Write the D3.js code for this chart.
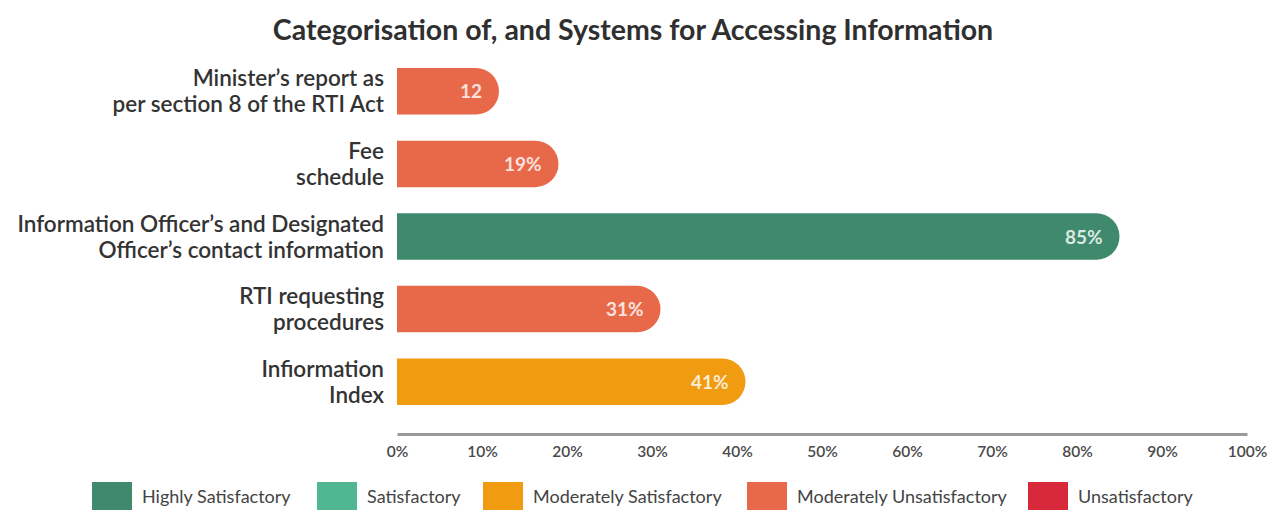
<!DOCTYPE html>
<html>
<head>
<meta charset="utf-8">
<script src="https://cdn.jsdelivr.net/npm/d3@7"></script>
<style>
  html, body { margin: 0; padding: 0; background: #fff; }
  svg { display: block; font-family: Lato, "Open Sans", sans-serif; }
</style>
</head>
<body>
<svg id="chart" width="1277" height="510"></svg>
<script>
// Indicators (two-line labels), their scores and rating
const categories = [
  ["Minister\u2019s report as", "per section 8 of the RTI Act"],
  ["Fee", "schedule"],
  ["Information Officer\u2019s and Designated", "Officer\u2019s contact information"],
  ["RTI requesting", "procedures"],
  ["Infiormation", "Index"]
];
const values = [12, 19, 85, 31, 41];
const valueLabels = ["12", "19%", "85%", "31%", "41%"];
const ratings = [
  "Moderately Unsatisfactory",
  "Moderately Unsatisfactory",
  "Highly Satisfactory",
  "Moderately Unsatisfactory",
  "Moderately Satisfactory"
];
const legendLabels = [
  "Highly Satisfactory",
  "Satisfactory",
  "Moderately Satisfactory",
  "Moderately Unsatisfactory",
  "Unsatisfactory"
];
const legendColors = ["#3f8a6d", "#4fb892", "#f09b10", "#e8694a", "#d7293a"];
const tickValues = [0, 10, 20, 30, 40, 50, 60, 70, 80, 90, 100];

const svg = d3.select("#chart");
const color = d3.scaleOrdinal().domain(legendLabels).range(legendColors);

const x = d3.scaleLinear().domain([0, 100]).range([397, 1247]);
const y = d3.scaleBand()
  .domain(d3.range(categories.length))
  .range([55, 418])
  .paddingInner(0.36)
  .paddingOuter(0.18);

// Title
svg.append("text")
  .attr("x", 633).attr("y", 40)
  .attr("text-anchor", "middle")
  .attr("font-size", 28.5)
  .attr("font-weight", 700)
  .attr("fill", "#2f2f2f")
  .text("Categorisation of, and Systems for Accessing Information");

// Bar with a rounded right end
function roundedBar(x0, x1, y0, h) {
  const r = Math.min(h / 2, x1 - x0);
  return `M${x0},${y0}H${x1 - r}` +
    `A${r},${r} 0 0 1 ${x1},${y0 + r}` +
    `V${y0 + h - r}` +
    `A${r},${r} 0 0 1 ${x1 - r},${y0 + h}` +
    `H${x0}Z`;
}

const rows = svg.append("g").selectAll("g")
  .data(values.map((v, i) => ({ v, i })))
  .join("g");

rows.append("path")
  .attr("d", d => roundedBar(x(0), x(d.v), y(d.i), y.bandwidth()))
  .attr("fill", d => color(ratings[d.i]));

rows.append("text")
  .attr("x", d => x(d.v) - 17)
  .attr("y", d => y(d.i) + y.bandwidth() / 2 + 7)
  .attr("text-anchor", "end")
  .attr("font-size", 19)
  .attr("font-weight", 700)
  .attr("fill", "#ffffff")
  .attr("fill-opacity", 0.82)
  .text(d => valueLabels[d.i]);

// Category labels, two lines each
const lbl = rows.append("text")
  .attr("text-anchor", "end")
  .attr("font-size", 22.5)
  .attr("font-weight", 600)
  .attr("fill", "#333");
lbl.selectAll("tspan")
  .data(d => categories[d.i].map((t, k) => ({ t, k, i: d.i })))
  .join("tspan")
  .attr("x", 384)
  .attr("y", d => y(d.i) + y.bandwidth() / 2 + (d.k === 0 ? -5 : 21))
  .text(d => d.t);

// X axis
const axis = svg.append("g")
  .attr("transform", "translate(0,434)")
  .call(d3.axisBottom(x).tickValues(tickValues).tickSize(0).tickPadding(12)
    .tickFormat(d => d + "%"));
axis.select(".domain").attr("stroke", "#9a9a9a").attr("stroke-width", 3);
axis.selectAll("text")
  .attr("font-family", "Lato, sans-serif")
  .attr("font-size", 15.5)
  .attr("font-weight", 600)
  .attr("fill", "#4a4a4a");

// Legend
const legendX = [92, 317, 483, 747, 1028];
const leg = svg.append("g").selectAll("g")
  .data(legendLabels)
  .join("g")
  .attr("transform", (d, i) => `translate(${legendX[i]},482)`);
leg.append("rect")
  .attr("width", 40).attr("height", 30)
  .attr("fill", d => color(d));
leg.append("text")
  .attr("x", 50).attr("y", 21)
  .attr("font-size", 18)
  .attr("fill", "#444")
  .text(d => d);
</script>
</body>
</html>
